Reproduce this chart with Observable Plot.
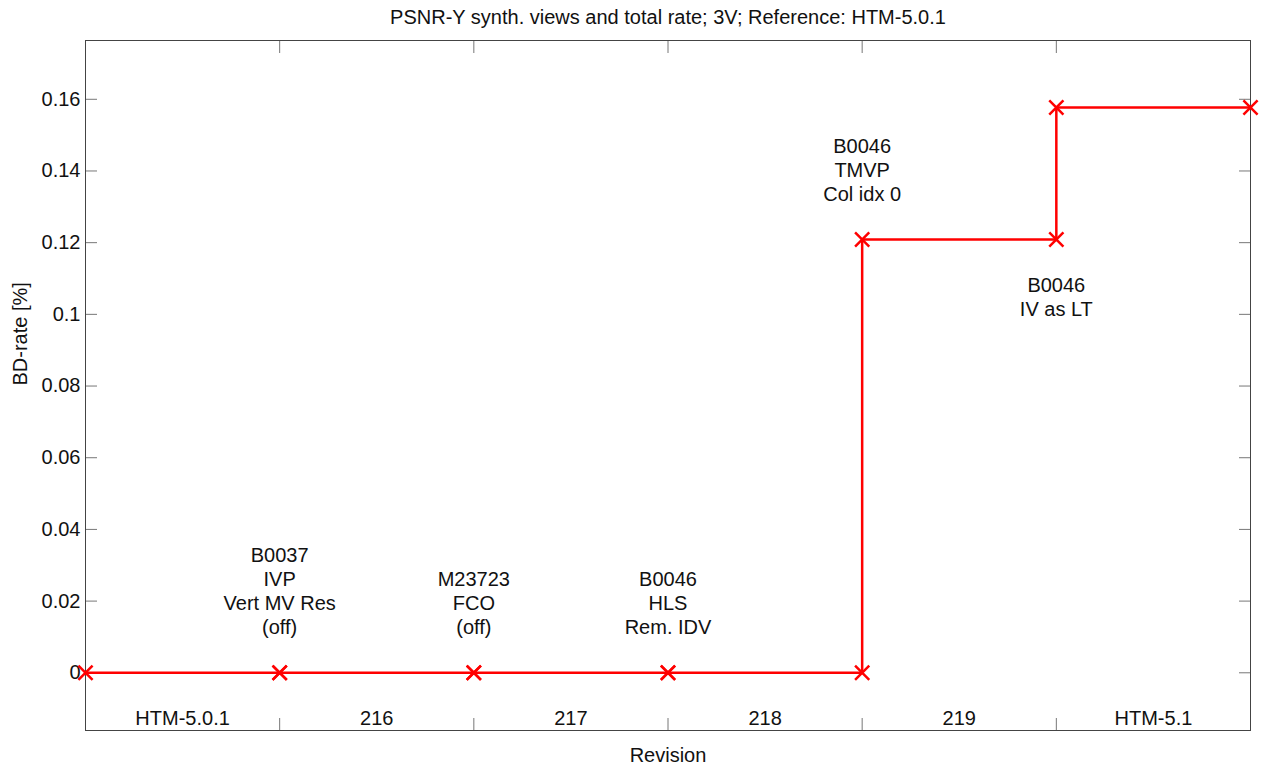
<!DOCTYPE html>
<html>
<head>
<meta charset="utf-8">
<script src="https://cdn.jsdelivr.net/npm/d3@7"></script>
<script src="https://cdn.jsdelivr.net/npm/@observablehq/plot@0.6"></script>
<style>
  html, body { margin: 0; padding: 0; background: #fff; }
  #chart svg { display: block; }
</style>
</head>
<body>
<div id="chart"></div>
<script>
// ---- data ----
const title = "PSNR-Y synth. views and total rate; 3V; Reference: HTM-5.0.1";
const xLabel = "Revision";
const yLabel = "BD-rate [%]";
const revisions = ["HTM-5.0.1", "216", "217", "218", "219", "HTM-5.1"];
// BD-rate value of each revision segment (segment i spans boundary i .. i+1)
const segmentValues = [0, 0, 0, 0, 0.1209, 0.1577];
const yTicks = [0, 0.02, 0.04, 0.06, 0.08, 0.1, 0.12, 0.14, 0.16];
const annotationTexts = [
  "B0037\nIVP\nVert MV Res\n(off)",
  "M23723\nFCO\n(off)",
  "B0046\nHLS\nRem. IDV",
  "B0046\nTMVP\nCol idx 0",
  "B0046\nIV as LT"
];
const annotationBoundary = [1, 2, 3, 4, 5];
// which point at the boundary the note refers to: "low" = value before step, "high" = after
const annotationRef = ["low", "low", "low", "high", "low"];
const annotationSide = ["above", "above", "above", "above", "below"];

// ---- derived tables ----
const pts = [];
segmentValues.forEach((v, i) => { pts.push({x: i, y: v}); pts.push({x: i + 1, y: v}); });
const revTable = revisions.map((r, i) => ({label: r, x: i + 0.5}));
const annTable = annotationTexts.map((t, i) => {
  const b = annotationBoundary[i];
  const base = annotationRef[i] === "high" ? segmentValues[b] : segmentValues[b - 1];
  const above = annotationSide[i] === "above";
  return {text: t, x: b, y: above ? base + 0.01 : base - 0.01, above};
});

const font = "'Liberation Sans', Arial, Helvetica, sans-serif";
const chart = Plot.plot({
  width: 1265,
  height: 770,
  marginLeft: 85,
  marginRight: 15,
  marginTop: 40,
  marginBottom: 40,
  style: {fontFamily: font, fontSize: "20px", color: "#111", background: "#fff", overflow: "visible"},
  x: {domain: [0, 6]},
  y: {domain: [-0.0161, 0.1764]},
  marks: [
    // tick labels
    Plot.axisY({anchor: "left", ticks: yTicks, tickSize: 0, tickPadding: 5,
      tickFormat: d => String(+d.toFixed(2)), fontSize: 20, label: null, fill: "#111"}),
    // inward ticks
    Plot.axisY({anchor: "left", ticks: yTicks, tickSize: -12, tickFormat: () => "", label: null, stroke: "#777"}),
    Plot.axisY({anchor: "right", ticks: yTicks, tickSize: -12, tickFormat: () => "", label: null, stroke: "#777"}),
    Plot.axisX({anchor: "bottom", ticks: d3.range(0, 7), tickSize: -12, tickFormat: () => "", label: null, stroke: "#777"}),
    Plot.axisX({anchor: "top", ticks: d3.range(0, 7), tickSize: -12, tickFormat: () => "", label: null, stroke: "#777"}),
    Plot.frame({stroke: "#444", strokeWidth: 1}),
    // revision labels
    Plot.text(revTable, {x: "x", text: "label", frameAnchor: "bottom", dy: -12, lineAnchor: "middle", fontSize: 20, fill: "#111"}),
    // line + markers
    Plot.line(pts, {x: "x", y: "y", stroke: "#ff0000", strokeWidth: 2.5}),
    Plot.dot(pts, {x: "x", y: "y", symbol: "times", r: 6.5, stroke: "#ff0000", strokeWidth: 2.5}),
    // annotations
    Plot.text(annTable.filter(d => d.above), {x: "x", y: "y", text: "text", lineAnchor: "bottom", lineHeight: 1.2, dy: -3, fontSize: 20, fill: "#111"}),
    Plot.text(annTable.filter(d => !d.above), {x: "x", y: "y", text: "text", lineAnchor: "top", lineHeight: 1.2, fontSize: 20, fill: "#111"}),
    // title & axis labels
    Plot.text([title], {frameAnchor: "top", dy: -23, lineAnchor: "middle", fontSize: 20, fill: "#111"}),
    Plot.text([xLabel], {frameAnchor: "bottom", dy: 25, lineAnchor: "middle", fontSize: 20, fill: "#111"}),
    Plot.text([yLabel], {frameAnchor: "left", dx: -65, rotate: -90, fontSize: 20, fill: "#111"})
  ]
});
document.getElementById("chart").append(chart);
</script>
</body>
</html>
